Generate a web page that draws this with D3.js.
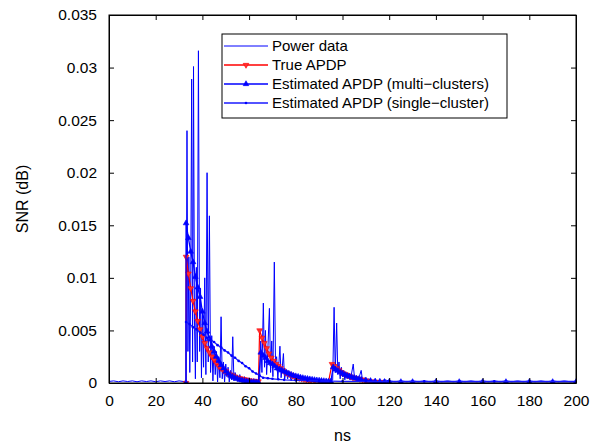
<!DOCTYPE html>
<html>
<head>
<script src="https://d3js.org/d3.v7.min.js"></script>
<style>
  body { margin: 0; background: #fff; }
  text { font-family: "Liberation Sans", Arial, sans-serif; }
</style>
</head>
<body>
<script>

// ---- data ----
var xTicks = [0, 20, 40, 60, 80, 100, 120, 140, 160, 180, 200];
var yTicks = [0, 0.005, 0.01, 0.015, 0.02, 0.025, 0.03, 0.035];
var legendNames = ["Power data", "True APDP", "Estimated APDP (multi\u2212clusters)", "Estimated APDP (single\u2212cluster)"];

// power data, [ns, value]
var powerData = [
  [0,0.00015],[2,0.0002],[4,0.00012],[6,0.0002],[8,0.00014],[10,0.0002],[12,0.00012],[14,0.0002],
  [16,0.00014],[18,0.0002],[20,0.00012],[22,0.0002],[24,0.00014],[26,0.0002],[28,0.00012],[30,0.0002],[32,0.00014],
  [33.0,0.0002],[33.4,0.0240],[33.8,0.0030],[34.2,0.0120],[34.6,0.0010],[35.0,0.0090],[35.4,0.0289],[35.8,0.0020],
  [36.2,0.0301],[36.6,0.0060],[37.0,0.0004],[37.4,0.0110],[37.8,0.0020],[38.3,0.0316],[38.8,0.0030],[39.2,0.0090],
  [39.6,0.0005],[40.0,0.0070],[40.5,0.0015],[41.0,0.0100],[41.5,0.0008],[42.0,0.0200],[42.5,0.0020],[43.0,0.0159],
  [43.5,0.0010],[44.0,0.0045],[44.5,0.0002],[45.0,0.0035],[45.5,0.0008],[46.0,0.0030],[46.5,0.0001],[47.0,0.0025],
  [47.5,0.0005],[48.0,0.0063],[48.5,0.0004],[49.0,0.0020],[49.5,0.0001],[50.0,0.0018],[50.5,0.0006],[51.0,0.0015],
  [51.5,0.0001],[52.0,0.0012],[52.5,0.0003],[53.0,0.0044],[53.5,0.0002],[54.0,0.0010],[55.0,0.0003],[56.0,0.0008],
  [57.0,0.0001],[58.0,0.0006],[59.0,0.0002],[60.0,0.0005],[61.0,0.0001],[62.0,0.0004],[63.0,0.0002],[64.0,0.0003],
  [64.5,0.0002],[65.0,0.0040],[65.5,0.0010],[66.1,0.0076],[66.6,0.0015],[67.0,0.0050],[67.5,0.0008],[68.0,0.0030],
  [68.7,0.0071],[69.2,0.0010],[69.7,0.0040],[70.2,0.0006],[70.8,0.0115],[71.3,0.0020],[71.8,0.0025],[72.3,0.0004],
  [72.8,0.0020],[73.2,0.0035],[73.7,0.0005],[74.2,0.0015],[74.7,0.0028],[75.2,0.0003],[75.8,0.0012],[76.5,0.0004],
  [77.2,0.0010],[78.0,0.0002],[78.8,0.0008],[79.5,0.0003],[80.3,0.0007],[81.0,0.0002],[82.0,0.0005],[83.0,0.0002],
  [84.0,0.0004],[85.0,0.0001],[86.0,0.0004],[87.0,0.0002],[88.0,0.0003],[89.0,0.0001],[90.0,0.0003],[91.0,0.0002],
  [92.0,0.0003],[93.0,0.0001],[94.0,0.0002],[95.0,0.0002],
  [95.8,0.0003],[96.4,0.0072],[96.9,0.0010],[97.5,0.0057],[98.0,0.0008],[98.5,0.0020],[99.0,0.0004],[99.5,0.0015],
  [100.0,0.0006],[100.5,0.0012],[101.0,0.0003],[101.5,0.0010],[102.0,0.0004],[102.6,0.0009],[103.2,0.0003],[103.8,0.0008],
  [104.6,0.0018],[105.2,0.0003],[105.8,0.0007],[106.5,0.0002],[107.2,0.0006],[108.0,0.0012],[108.6,0.0002],[109.3,0.0005],
  [110.0,0.0002],[111,0.0004],[112,0.0002],[114,0.0003],[116,0.0001],[118,0.0003],[120,0.0002],
  [122.5,0.00012],[125,0.0002],[127.5,0.00012],[130,0.0002],[132.5,0.00012],[135,0.0002],[137.5,0.00012],[140,0.0002],
  [142.5,0.00012],[145,0.0002],[147.5,0.00012],[150,0.0002],[152.5,0.00012],[155,0.0002],[157.5,0.00012],[160,0.0002],
  [162.5,0.00012],[165,0.0002],[167.5,0.00012],[170,0.0002],[172.5,0.00012],[175,0.0002],[177.5,0.00012],[180,0.0002],
  [182.5,0.00012],[185,0.0002],[187.5,0.00012],[190,0.0002],[192.5,0.00012],[195,0.0002],[197.5,0.00012],[200,0.00015]
];

// true APDP
var trueApdp = [
  [33,0],[33,0.0120],[34,0.0104],[35,0.0090],[36,0.0078],[37,0.0068],[38,0.0059],[39,0.0051],[40,0.0044],
  [41,0.0038],[42,0.0033],[43,0.0029],[44,0.0025],[45,0.0022],[46,0.0019],[47,0.0016],[48,0.0014],
  [49,0.0012],[50,0.0011],[51,0.0009],[52,0.0008],[53,0.0007],[54,0.0006],[55,0.0005],[56,0.00045],
  [57,0.0004],[58,0.00035],[59,0.0003],[60,0.00025],[61,0.0002],[62,0.0002],[63,0.00015],[64,0.00015],
  [64.5,0.0050],[65.5,0.0043],[66.5,0.0038],[67.5,0.0033],[68.5,0.0028],[69.5,0.0024],[70.5,0.0021],
  [71.5,0.0018],[72.5,0.0016],[73.5,0.0014],[74.5,0.0012],[75.5,0.0010],[76.5,0.0009],[77.5,0.0008],
  [78.5,0.0007],[79.5,0.0006],[80.5,0.0005],[81.5,0.00045],[82.5,0.0004],[83.5,0.00035],[84.5,0.0003],
  [85.5,0.00025],[86.5,0.0002],[88,0.00018],[90,0.00015],[92,0.00012],[94,0.0001],
  [95.5,0.0018],[96.5,0.0016],[97.5,0.0014],[98.5,0.0012],[99.5,0.0010],[100.5,0.0009],[101.5,0.0008],
  [102.5,0.0007],[103.5,0.0006],[104.5,0.0005],[105.5,0.00045],[106.5,0.0004],[107.5,0.00035],
  [108.5,0.0003],[109.5,0.00025],[110.5,0.0002],[112,0.00015],[114,0.0001],[116,0.0001]
];

// estimated APDP, multi clusters
var multiApdp = [
  [33,0],[33,0.0152],[34,0.0138],[35,0.0125],[36,0.0115],[37,0.0101],[38,0.0091],[39,0.0082],[40,0.0068],
  [41,0.0057],[42,0.0049],[43,0.0042],[44,0.0035],[45,0.0030],[46,0.0025],[47,0.0021],[48,0.0017],
  [49,0.0014],[50,0.0011],[51,0.0009],[52,0.0007],[53,0.0006],[54,0.0005],[55,0.0004],[56,0.0003],
  [57,0.00025],[58,0.0002],[59,0.00016],[60,0.00013],[61,0.0001],[62,0.0001],[63,0.00008],[64,0.00007],
  [65,0.0029],[66,0.0026],[67,0.0024],[68,0.0021],[69,0.0019],[70,0.0018],[71,0.0016],[72,0.0014],
  [73,0.0013],[74,0.0012],[75,0.0011],[76,0.0010],[77,0.0009],[78,0.0008],[79,0.0007],[80,0.00065],
  [81,0.0006],[82,0.00053],[83,0.00048],[84,0.00043],[85,0.0004],[86,0.00036],[87,0.00032],[88,0.00029],
  [89,0.00026],[90,0.00024],[91,0.00021],[92,0.00019],[93,0.00017],[94,0.00015],[95,0.00014],
  [96,0.0015],[97,0.0013],[98,0.00117],[99,0.00103],[100,0.0009],[101,0.0008],[102,0.0007],[103,0.00063],
  [104,0.00055],[105,0.00049],[106,0.00043],[107,0.00038],[108,0.00033],[110,0.00026],[112,0.0002],
  [114,0.00016],[116,0.00013],[118,0.00011],[120,0.0001],[125,0.0001],[130,0.0001],[140,0.0001],
  [150,0.0001],[160,0.0001],[170,0.0001],[180,0.0001],[190,0.0001],[200,0.0001]
];

// estimated APDP, single cluster
var singleApdp = [
  [33,0],[33,0.0058],[34.5,0.0056],[36,0.0053],[37.5,0.0051],[39,0.0048],[40.5,0.0046],[42,0.0043],
  [43.5,0.0041],[45,0.0039],[46.5,0.0036],[48,0.0034],[49.5,0.0031],[51,0.0029],[52.5,0.0026],[54,0.0024],
  [55.5,0.0021],[57,0.0019],[58.5,0.0016],[60,0.0014],[61.5,0.0011],[63,0.0009],[64.5,0.0007],[66,0.0005],
  [68,0.00045],[70,0.0004],[72.5,0.00035],[75,0.0003],[80,0.00025],[85,0.00022],[90,0.0002],[95,0.00017],
  [100,0.00016],[110,0.00015],[120,0.00015],[135,0.00015],[150,0.00015],[165,0.00015],[180,0.00015],[200,0.00015]
];

// ---- layout ----
var W = 612, H = 448;
var margin = {top: 15, right: 36, bottom: 65, left: 109},
    width = W - margin.left - margin.right,
    height = H - margin.top - margin.bottom;

var svg = d3.select("body").append("svg")
    .attr("width", W)
    .attr("height", H)
  .append("g")
    .attr("transform", "translate(" + margin.left + "," + margin.top + ")");

var x = d3.scaleLinear().domain([0, 200]).range([0, width]);
var y = d3.scaleLinear().domain([0, 0.035]).range([height, 0]);

svg.append("defs").append("clipPath").attr("id", "clip")
  .append("rect").attr("width", width).attr("height", height + 1).attr("y", -1);

var line = d3.line()
    .x(function(d) { return x(d[0]); })
    .y(function(d) { return y(d[1]); });

var plot = svg.append("g").attr("clip-path", "url(#clip)");

// power data
plot.append("path")
    .datum(powerData)
    .attr("fill", "none")
    .attr("stroke", "#0000ff")
    .attr("stroke-width", 1)
    .attr("d", line);

// true APDP
plot.append("path")
    .datum(trueApdp)
    .attr("fill", "none")
    .attr("stroke", "#ff0000")
    .attr("stroke-width", 1.2)
    .attr("d", line);

var triDown = d3.symbol().type(d3.symbolTriangle).size(14);

plot.selectAll(".tri-red")
    .data(trueApdp)
  .enter().append("path")
    .attr("class", "tri-red")
    .attr("d", triDown)
    .attr("transform", function(d) { return "translate(" + x(d[0]) + "," + y(d[1]) + ") rotate(180)"; })
    .attr("fill", "#ff3030")
    .attr("stroke", "#ff0000")
    .attr("stroke-width", 0.6);

// multi-cluster estimate
plot.append("path")
    .datum(multiApdp)
    .attr("fill", "none")
    .attr("stroke", "#0000ff")
    .attr("stroke-width", 1.3)
    .attr("d", line);

plot.selectAll(".tri-blue")
    .data(multiApdp)
  .enter().append("path")
    .attr("class", "tri-blue")
    .attr("d", triDown)
    .attr("transform", function(d) { return "translate(" + x(d[0]) + "," + y(d[1]) + ")"; })
    .attr("fill", "#0000ff")
    .attr("stroke", "#0000ff")
    .attr("stroke-width", 0.6);

// single-cluster estimate
plot.append("path")
    .datum(singleApdp)
    .attr("fill", "none")
    .attr("stroke", "#1a1aff")
    .attr("stroke-width", 1.3)
    .attr("d", line);

plot.selectAll(".dot")
    .data(singleApdp)
  .enter().append("circle")
    .attr("class", "dot")
    .attr("cx", function(d) { return x(d[0]); })
    .attr("cy", function(d) { return y(d[1]); })
    .attr("r", 1.3)
    .attr("fill", "#0000ff");

// ---- axes (box, ticks inside) ----
var fmtY = function(d) { return d === 0 ? "0" : d3.format(".3~f")(d); };

svg.append("g")
    .attr("transform", "translate(0," + height + ")")
    .call(d3.axisBottom(x).tickValues(xTicks).tickSize(-5).tickPadding(12).tickSizeOuter(0));
svg.append("g")
    .call(d3.axisTop(x).tickValues(xTicks).tickSize(-5).tickFormat("").tickSizeOuter(0));
svg.append("g")
    .call(d3.axisLeft(y).tickValues(yTicks).tickSize(-5).tickPadding(12).tickFormat(fmtY).tickSizeOuter(0));
svg.append("g")
    .attr("transform", "translate(" + width + ",0)")
    .call(d3.axisRight(y).tickValues(yTicks).tickSize(-5).tickFormat("").tickSizeOuter(0));

svg.selectAll(".tick text")
    .style("font-family", "'Liberation Sans', Arial, sans-serif")
    .style("font-size", "15.5px")
    .attr("fill", "#000");
svg.selectAll(".domain").attr("stroke", "#000");
svg.selectAll(".tick line").attr("stroke", "#000");

svg.append("rect")
    .attr("width", width)
    .attr("height", height)
    .attr("fill", "none")
    .attr("stroke", "#000")
    .attr("stroke-width", 1);

// axis labels
svg.append("text")
    .attr("x", width / 2)
    .attr("y", height + 58)
    .style("text-anchor", "middle")
    .style("font-size", "16px")
    .text("ns");

svg.append("text")
    .attr("transform", "rotate(-90)")
    .attr("x", -height / 2)
    .attr("y", -margin.left + 28)
    .style("text-anchor", "middle")
    .style("font-size", "16px")
    .text("SNR (dB)");

// ---- legend ----
var lg = svg.append("g").attr("transform", "translate(" + (222 - margin.left) + "," + (34 - margin.top) + ")");
lg.append("rect")
    .attr("width", 285)
    .attr("height", 84)
    .attr("fill", "#fff")
    .attr("stroke", "#000")
    .attr("stroke-width", 1);

var legColors = ["#0000ff", "#ff0000", "#0000ff", "#1a1aff"];
legendNames.forEach(function(name, i) {
  var yy = 12 + i * 19;
  lg.append("line")
      .attr("x1", 2).attr("x2", 46)
      .attr("y1", yy).attr("y2", yy)
      .attr("stroke", legColors[i])
      .attr("stroke-width", i === 0 ? 1 : 1.3);
  if (i === 1) {
    lg.append("path").attr("d", triDown)
        .attr("transform", "translate(24," + yy + ") rotate(180)")
        .attr("fill", "#ff3030").attr("stroke", "#ff0000").attr("stroke-width", 0.6);
  } else if (i === 2) {
    lg.append("path").attr("d", triDown)
        .attr("transform", "translate(24," + yy + ")")
        .attr("fill", "#0000ff").attr("stroke", "#0000ff").attr("stroke-width", 0.6);
  } else if (i === 3) {
    lg.append("circle").attr("cx", 24).attr("cy", yy).attr("r", 1.3).attr("fill", "#0000ff");
  }
  lg.append("text")
      .attr("x", 50)
      .attr("y", yy + 5)
      .style("font-size", "15px")
      .text(name);
});

</script>
</body>
</html>
